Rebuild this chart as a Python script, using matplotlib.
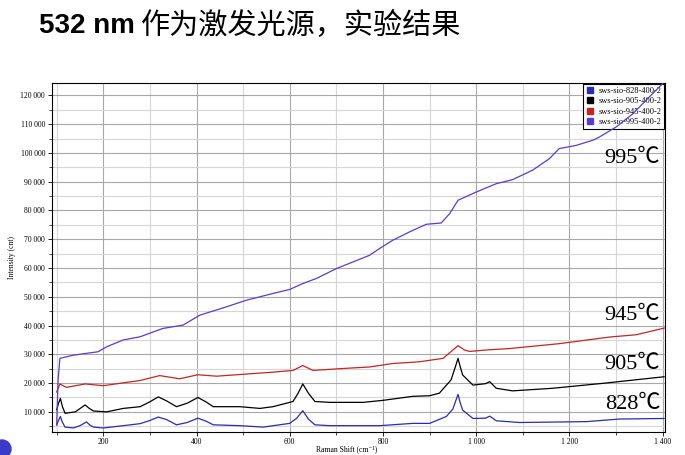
import matplotlib
matplotlib.use("Agg")
import matplotlib.pyplot as plt
from matplotlib.lines import Line2D
from matplotlib.ticker import MultipleLocator, FuncFormatter
from matplotlib.patches import Ellipse

# ---------------- data ----------------
x_828 = [100, 104, 108, 112, 118, 136, 150, 164, 172, 179, 200, 243, 279, 300, 318, 336, 357, 380,
         403, 420, 436, 493, 543, 600, 615, 628, 640, 654, 686, 793, 864, 900, 936, 950, 961, 966,
         971, 993, 1020, 1029, 1038, 1043, 1093, 1236, 1307, 1403]
y_828 = [5500, 7000, 8400, 6500, 4700, 4400, 5200, 6500, 5300, 4700, 4400, 5200, 5900, 7000, 8200,
         7300, 5500, 6300, 7800, 6800, 5500, 5200, 4700, 6000, 7800, 10400, 7500, 5500, 5200, 5200,
         6000, 6000, 8400, 11000, 16100, 13000, 10600, 7700, 7800, 8500, 7500, 6900, 6300, 6600,
         7500, 7700]

x_905 = [100, 104, 108, 112, 118, 140, 161, 170, 179, 207, 243, 279, 300, 318, 336, 357, 380, 403,
         420, 436, 493, 536, 564, 607, 618, 628, 640, 654, 686, 757, 800, 864, 900, 921, 946, 955,
         961, 966, 971, 993, 1020, 1029, 1038, 1043, 1078, 1164, 1271, 1403]
y_905 = [10700, 13000, 14700, 12000, 9500, 10000, 12400, 11200, 10300, 10000, 11200, 11800, 13500,
         15200, 13800, 11800, 13000, 15000, 13500, 11800, 11800, 11200, 11800, 13600, 16500, 19700,
         16500, 13600, 13300, 13300, 14000, 15400, 15600, 16500, 21100, 25500, 28600, 25500, 22800,
         19300, 19800, 20500, 19000, 18200, 17300, 18200, 19900, 22200]

x_945 = [100, 107, 121, 161, 200, 279, 321, 364, 403, 443, 564, 607, 628, 650, 707, 771, 821, 878,
         929, 950, 961, 975, 986, 1021, 1071, 1178, 1286, 1343, 1403]
y_945 = [16900, 19700, 18500, 19700, 19100, 20900, 22600, 21500, 22900, 22400, 23800, 24400, 26100,
         24400, 25000, 25600, 26800, 27400, 28600, 31500, 33000, 31500, 31000, 31500, 32000, 33700,
         36000, 36800, 39100]

x_995 = [100, 103, 107, 136, 189, 207, 243, 279, 328, 371, 407, 464, 507, 564, 600, 628, 657, 700,
         771, 793, 821, 857, 893, 925, 943, 961, 1000, 1043, 1078, 1121, 1157, 1178, 1214, 1250,
         1264, 1300, 1336, 1371, 1403]
y_995 = [5400, 20900, 28600, 29700, 30900, 32600, 35000, 36100, 39000, 40150, 43600, 46500, 48800,
         51150, 52550, 54600, 56350, 59800, 64400, 66800, 69650, 72550, 75200, 75650, 78900, 83550,
         86400, 89300, 90700, 94000, 98000, 101500, 102600, 104400, 105500, 109000, 113600, 119400,
         124600]

series_labels = ["sws-sio-828-400-2", "sws-sio-905-400-2", "sws-sio-945-400-2", "sws-sio-995-400-2"]
series_colors = ["#2b2bb0", "#000000", "#c42424", "#5a3ccc"]
temp_labels = ["828℃", "905℃", "945℃", "995℃"]
temp_pos = [(1395, 12700), (1395, 26300), (1395, 43600), (1395, 98100)]

title_num = "532 nm"
title_cn = "作为激发光源，实验结果"

# ---------------- figure ----------------
W, H = 685, 455
fig = plt.figure(figsize=(W / 100, H / 100), dpi=100)
fig.patch.set_facecolor("white")
ax = fig.add_axes([52 / W, 1 - 432 / H, (665 - 52) / W, (432 - 83) / H])

serif = ["Liberation Serif", "DejaVu Serif"]

for xs, ys, c in zip([x_828, x_905, x_945, x_995], [y_828, y_905, y_945, y_995], series_colors):
    ax.plot(xs, ys, color=c, lw=0.9, zorder=3)

ax.set_xlim(90, 1405)
ax.set_ylim(3000, 124300)

ax.xaxis.set_major_locator(MultipleLocator(200))
ax.xaxis.set_minor_locator(MultipleLocator(100))
ax.yaxis.set_major_locator(MultipleLocator(10000))
ax.yaxis.set_minor_locator(MultipleLocator(5000))

def thousands(v, pos):
    return f"{int(v):,}".replace(",", " ")

ax.xaxis.set_major_formatter(FuncFormatter(thousands))
ax.yaxis.set_major_formatter(FuncFormatter(thousands))

ax.grid(which="major", color="#a8a8a8", lw=0.8, zorder=0)
ax.grid(which="minor", color="#d6d6d6", lw=0.8, zorder=0)
ax.set_axisbelow(True)

ax.tick_params(which="major", direction="out", length=3, width=0.6, labelsize=5.5, pad=2)
ax.tick_params(axis="x", which="major", pad=1.5)
ax.tick_params(which="minor", direction="out", length=2, width=0.5)
for lab in ax.get_xticklabels() + ax.get_yticklabels():
    lab.set_family(serif)

for s in ax.spines.values():
    s.set_color("black")
    s.set_linewidth(0.8)

ax.set_xlabel("Raman Shift (cm⁻¹)", fontsize=5.5, family=serif)
ax.xaxis.set_label_coords(0.48, -0.038)
ax.set_ylabel("Intensity (cnt)", fontsize=5.5, family=serif, labelpad=3)

handles = [Line2D([], [], marker="s", ls="none", color=c, markersize=4) for c in series_colors]
leg = ax.legend(handles, series_labels, loc="upper right", frameon=True,
                fancybox=False, edgecolor="black", framealpha=1, handletextpad=0.5,
                borderpad=0.3, labelspacing=0.3, handlelength=1.0, borderaxespad=0.15,
                prop={"family": serif, "size": 6})
leg.get_frame().set_linewidth(0.8)
leg.set_zorder(2.5)

for t, (tx, ty) in zip(temp_labels, temp_pos):
    ax.text(tx, ty, t, ha="right", va="center", fontsize=16,
            family=["Liberation Serif", "Noto Sans CJK SC"], zorder=6)

# title
fig.text(39 / W, 1 - 26 / H, title_num, fontsize=20, fontweight="bold",
         family=["Liberation Sans", "DejaVu Sans"], ha="left", va="center")
fig.text(141 / W, 1 - 26 / H, title_cn, fontsize=21,
         family=["Noto Sans CJK SC", "DejaVu Sans"], ha="left", va="center")

# decorative partial circle at bottom-left
fig.patches.append(Ellipse((2 / W, 1 - 449 / H), 18 / W, 18 / H, transform=fig.transFigure,
                           color="#3a3ac8", zorder=0))

fig.savefig("out.png", dpi=100)
